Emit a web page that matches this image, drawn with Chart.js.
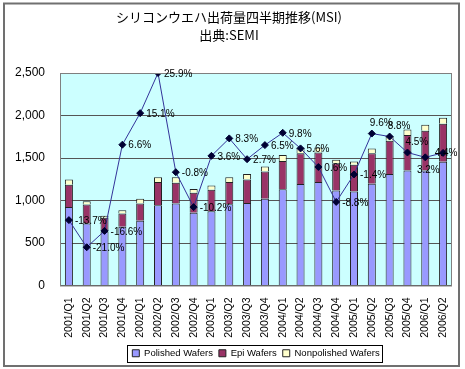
<!DOCTYPE html>
<html>
<head>
<meta charset="utf-8">
<script src="https://cdn.jsdelivr.net/npm/chart.js@4/dist/chart.umd.min.js"></script>
<style>
html,body{margin:0;padding:0;background:#fff;}
#wrap{position:relative;width:465px;height:369px;}
</style>
</head>
<body>
<div id="wrap"><canvas id="c" width="465" height="369"></canvas></div>
<script>
const categories = ['2001/Q1','2001/Q2','2001/Q3','2001/Q4','2002/Q1','2002/Q2','2002/Q3','2002/Q4','2003/Q1','2003/Q2','2003/Q3','2003/Q4','2004/Q1','2004/Q2','2004/Q3','2004/Q4','2005/Q1','2005/Q2','2005/Q3','2005/Q4','2006/Q1','2006/Q2'];
const polished    = [925, 730, 635, 692, 762, 944, 964, 855, 874, 955, 972, 1022, 1131, 1193, 1217, 1119, 1107, 1197, 1313, 1352, 1352, 1457];
const epi         = [260, 222, 162, 155, 202, 273, 245, 237, 253, 262, 275, 318, 334, 362, 349, 319, 313, 358, 390, 420, 470, 446];
const nonpolished = [62, 40, 23, 39, 58, 58, 66, 43, 50, 58, 66, 59, 70, 70, 59, 42, 39, 58, 52, 62, 68, 70];
const growth      = [-13.7, -21.0, -16.6, 6.6, 15.1, 25.9, -0.8, -10.2, 3.6, 8.3, 2.7, 6.5, 9.8, 5.6, 0.6, -8.8, -1.4, 9.6, 8.8, 4.5, 3.2, 4.4];
const seriesNames = ['Polished Wafers', 'Epi Wafers', 'Nonpolished Wafers'];
const titleLines  = ['シリコンウエハ出荷量四半期推移(MSI)', '出典:SEMI'];

// label placement style (as in the original chart)
const labelAnchor = ['right','right','right','right','right','right','right','right','right','right','right','right','right','right','right','right','right','top','top','top','bottom','center'];

const decor = {
  id: 'decor',
  beforeDraw(chart) {
    const {ctx, chartArea: a} = chart;
    ctx.save();
    ctx.fillStyle = '#ffffff';
    ctx.fillRect(0, 0, chart.width, chart.height);
    ctx.fillStyle = '#CCFFFF';
    ctx.fillRect(a.left, a.top, a.right - a.left, a.bottom - a.top);
    ctx.restore();
  },
  afterDraw(chart) {
    const {ctx, chartArea: a} = chart;
    ctx.save();
    ctx.strokeStyle = '#808080';
    ctx.lineWidth = 1;
    ctx.strokeRect(a.left + 0.5, a.top + 0.5, a.right - a.left - 1, a.bottom - a.top);
    const meta = chart.getDatasetMeta(3);
    ctx.fillStyle = '#000';
    ctx.font = '10px "Liberation Sans", Arial, sans-serif';
    ctx.textBaseline = 'middle';
    meta.data.forEach((pt, i) => {
      const txt = growth[i].toFixed(1) + '%';
      const w = ctx.measureText(txt).width;
      let x = pt.x + 6, y = pt.y + 1;
      const an = labelAnchor[i];
      if (an === 'top') { x = pt.x - 2; y = pt.y - 10; }
      else if (an === 'bottom') { x = pt.x + 3 - w / 2; y = pt.y + 13; }
      else if (an === 'center') { x = pt.x + 3 - w / 2; y = pt.y; }
      ctx.textAlign = 'left';
      ctx.fillText(txt, x, y);
    });
    const hb = chart.legend && chart.legend.legendHitBoxes;
    if (hb && hb.length) {
      let l = Infinity, r = -Infinity, t = Infinity, b = -Infinity;
      hb.forEach(h => { l = Math.min(l, h.left); r = Math.max(r, h.left + h.width); t = Math.min(t, h.top); b = Math.max(b, h.top + h.height); });
      ctx.strokeStyle = '#000';
      ctx.lineWidth = 1;
      ctx.strokeRect(Math.round(l) - 4.5, Math.round(t) - 3.5, Math.round(r - l) + 8, Math.round(b - t) + 7);
    }
    ctx.strokeStyle = '#707070';
    ctx.lineWidth = 2;
    ctx.strokeRect(4, 3.5, 455, 362.5);
    ctx.restore();
  }
};

new Chart(document.getElementById('c'), {
  data: {
    labels: categories,
    datasets: [
      {type: 'bar', label: seriesNames[0], data: polished, backgroundColor: '#9999FF', borderColor: '#222', borderWidth: 1, stack: 's', order: 2, yAxisID: 'y'},
      {type: 'bar', label: seriesNames[1], data: epi, backgroundColor: '#993366', borderColor: '#222', borderWidth: 1, stack: 's', order: 2, yAxisID: 'y'},
      {type: 'bar', label: seriesNames[2], data: nonpolished, backgroundColor: '#FFFFCC', borderColor: '#222', borderWidth: 1, stack: 's', order: 2, yAxisID: 'y'},
      {type: 'line', label: 'growth', data: growth, borderColor: '#333399', borderWidth: 1, pointStyle: 'rectRot', pointRadius: 3.5, pointBackgroundColor: '#000033', pointBorderColor: '#000033', tension: 0, order: 1, yAxisID: 'y2'}
    ]
  },
  options: {
    responsive: false,
    animation: false,
    devicePixelRatio: 1,
    layout: {padding: {left: 6, right: 13, top: 0, bottom: 1}},
    datasets: {bar: {categoryPercentage: 1, barPercentage: 0.45}},
    plugins: {
      tooltip: {enabled: false},
      title: {
        display: true,
        text: titleLines,
        color: '#000',
        font: {family: '"Noto Sans CJK JP", sans-serif', size: 13, weight: 'normal', lineHeight: 1.385},
        padding: {top: 8, bottom: 29}
      },
      legend: {
        display: true,
        position: 'bottom',
        fullSize: false,
        labels: {
          filter: item => item.datasetIndex < 3,
          boxWidth: 7,
          boxHeight: 7,
          padding: 6,
          color: '#000',
          font: {family: '"Liberation Sans", Arial, sans-serif', size: 9.5}
        }
      }
    },
    scales: {
      x: {
        stacked: true,
        grid: {display: false},
        border: {display: false},
        ticks: {
          autoSkip: false, minRotation: 90, maxRotation: 90, padding: 4, color: '#000',
          font: {family: '"Liberation Sans", Arial, sans-serif', size: 10.5}
        },
        afterFit(scale) { scale.height = 57; }
      },
      y: {
        stacked: true,
        min: 0, max: 2500,
        grid: {color: '#555', lineWidth: 1, drawTicks: false},
        border: {display: false},
        ticks: {
          stepSize: 500, padding: 15, color: '#000',
          font: {family: '"Liberation Sans", Arial, sans-serif', size: 12},
          callback: v => v.toLocaleString('en-US')
        },
        afterFit(scale) { scale.width = 54; }
      },
      y2: {
        display: false,
        min: -31.3, max: 25.9
      }
    }
  },
  plugins: [decor]
});
</script>
</body>
</html>
